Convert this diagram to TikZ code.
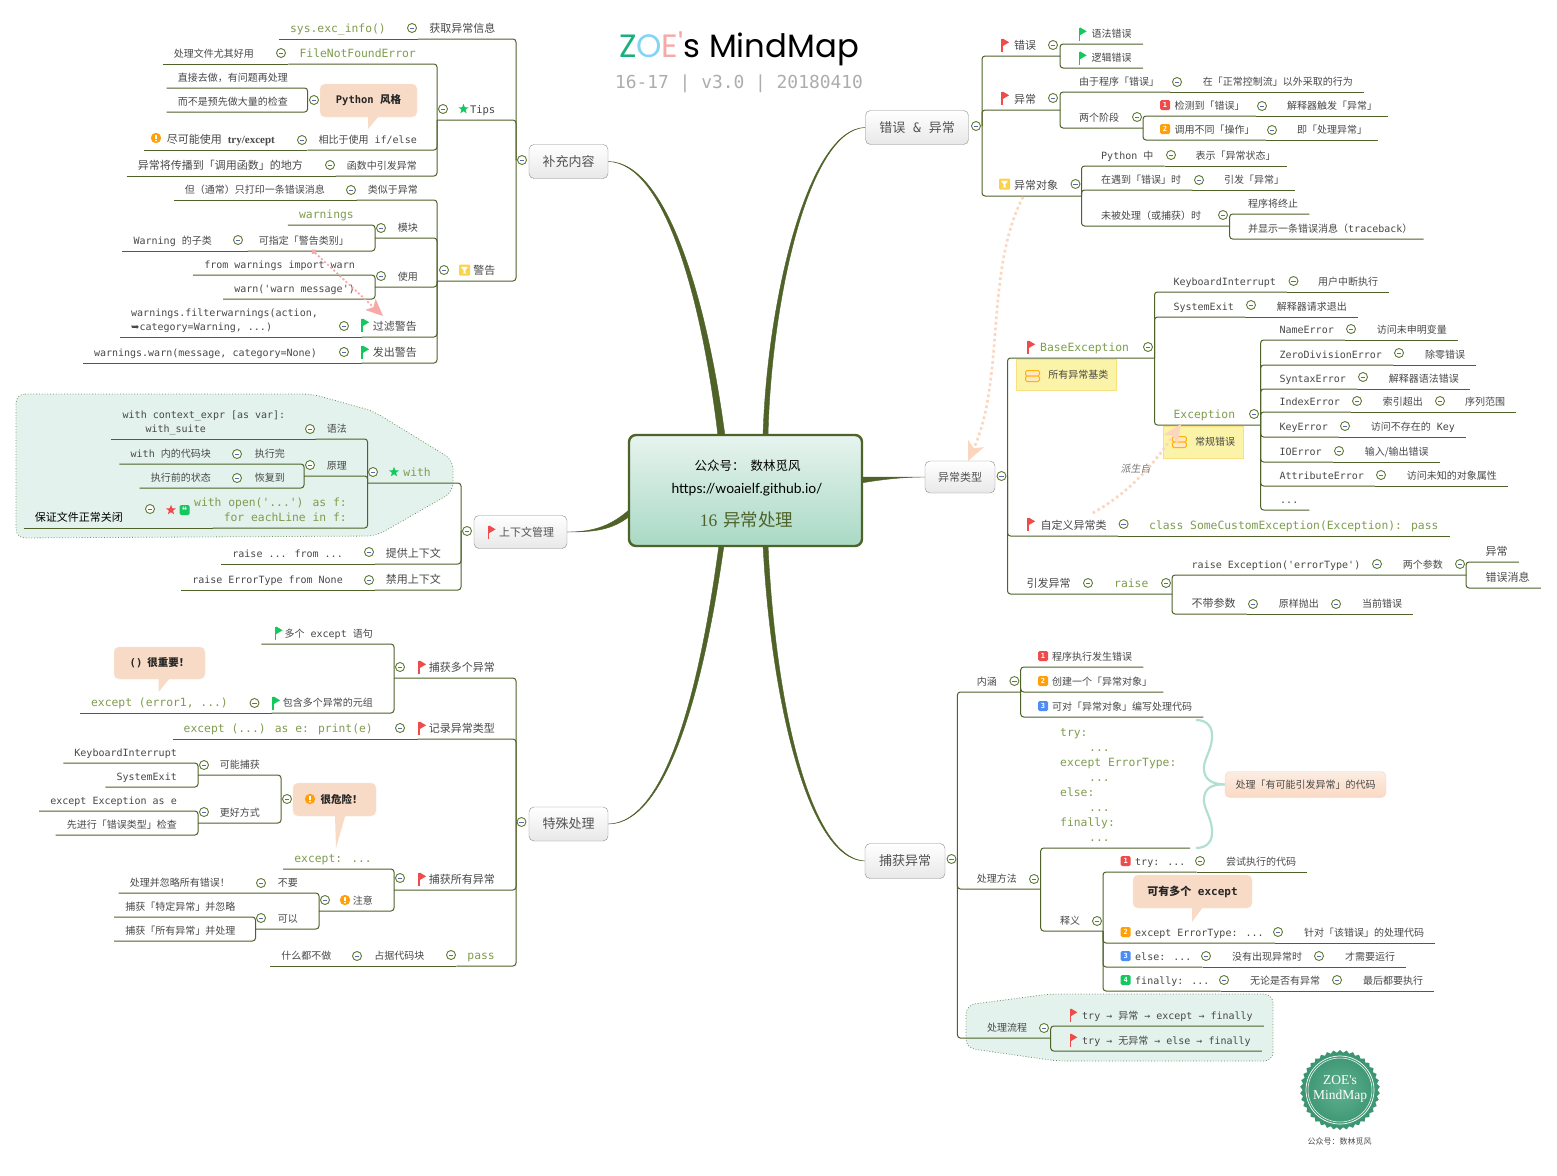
\documentclass[tikz,border=0pt]{standalone}
\usepackage{fontspec}
\usetikzlibrary{arrows.meta,shapes.geometric}
\newfontfamily\cjk{Noto Sans CJK SC}
\newfontfamily\cjkslant{Noto Sans CJK SC}[FakeSlant=0.2]
\newfontfamily\monof{DejaVu Sans Mono}
\newfontfamily\symf{DejaVu Sans}
\newfontfamily\serifb{Liberation Serif}
\newfontfamily\titlef{Poppins}
\newfontfamily\urlf{Lato}
\newcommand{\setfs}[1]{\fontsize{#1}{#1}\selectfont}
\newcommand{\cc}[1]{{\monof #1}}
\newcommand{\codedots}{...}
\definecolor{linec}{HTML}{4F6228}
\definecolor{ink}{HTML}{484848}
\definecolor{codec}{HTML}{7F9C4E}
\definecolor{foldc}{HTML}{5E7A36}
\definecolor{minusc}{HTML}{5A6AA8}
\definecolor{peach}{HTML}{F8DBC6}
\definecolor{peachd}{HTML}{FBD5BD}
\definecolor{pinkc}{HTML}{F9A8A8}
\definecolor{fillg}{HTML}{E3F2EC}
\definecolor{zoneline}{HTML}{6B8E5A}
\definecolor{notec}{HTML}{FBF3A8}
\definecolor{notel}{HTML}{F7E27F}
\definecolor{bracec}{HTML}{B2E0CF}
\definecolor{rootbot}{HTML}{A9D9C5}
\definecolor{sealin}{HTML}{5FB08F}
\definecolor{sealout}{HTML}{3A9370}
\definecolor{fred}{HTML}{F04B4B}
\definecolor{fgreen}{HTML}{12C95D}
\definecolor{forange}{HTML}{FF9F0A}
\definecolor{fblue}{HTML}{4D8DF5}
\definecolor{fyellow}{HTML}{FBD34A}
\definecolor{zgreen}{HTML}{1AAF7E}
\definecolor{zblue}{HTML}{82D4F5}
\definecolor{zpink}{HTML}{F7A8A8}
\begin{document}
\begin{tikzpicture}[x=1pt,y=-1pt]
    \tikzstyle{lab}=[text=ink, inner xsep=11pt, inner ysep=4pt, text height=8pt,
                            text depth=2.5pt, font=\cjk\setfs{10}]
    \tikzstyle{lt}=[lab, anchor=south east, xshift=11pt]
    \tikzstyle{rt}=[lab, anchor=south west, xshift=-11pt]
    \tikzstyle{big}=[font=\cjk\setfs{11}]
    \tikzstyle{mono}=[font=\monof\setfs{10}]
    \tikzstyle{gcode}=[font=\monof\setfs{11.35}, text=codec]
    \tikzstyle{link}=[draw=linec, line width=1pt, rounded corners=3pt]
    \tikzstyle{fold}=[circle, draw=foldc, fill=white, line width=.9pt, inner sep=0pt,
                            minimum size=9pt, path picture={\draw[minusc, line width=.7pt] (-2.2pt,0pt) -- (2.2pt,0pt);}]
    \tikzstyle{mainbox}=[rectangle, rounded corners=5pt, draw=black!45, top color=white,
                            bottom color=black!9, text=black!68, font=\cjk\setfs{13}, inner sep=0pt]
    \tikzstyle{bubble}=[rectangle, rounded corners=5pt, draw=peach!70!white, fill=peach, inner sep=0pt,
                            text=black!85, font=\cjk\bfseries\setfs{10.5}]
    \tikzstyle{notebox}=[rectangle, draw=notel, fill=notec, inner sep=0pt, text=ink, font=\cjk\setfs{10}]
    \tikzstyle{badge}=[rectangle, rounded corners=1.5pt, inner sep=0pt, minimum size=10pt, text=white,
                            font=\monof\bfseries\setfs{7}]
    \tikzstyle{zone}=[draw=zoneline, fill=fillg, line width=.8pt, dotted, rounded corners=9pt]
    \tikzstyle{branch}=[fill=linec, draw=linec, line width=.4pt]
    \tikzset{
      flagicon/.pic={\fill[#1] (-3.2,-6.5) rectangle (-1.8,6.5);
                     \fill[#1] (-1.8,-6.5) -- (4.6,-2.7) -- (-1.8,1.1) -- cycle;},
      staricon/.pic={\node[star, star points=5, star point ratio=2.4, fill=#1, inner sep=0pt, minimum size=10.5pt] {};},
      alerticon/.pic={\fill[forange] (0,0) circle (5.2pt);
                      \fill[white] (-.8,-3.2) rectangle (.8,1); \fill[white] (0,2.6) circle (.9pt);},
      cupicon/.pic={\fill[fyellow, rounded corners=1pt] (-5.5,-5.5) rectangle (5.5,5.5);
                    \fill[white] (-3.5,-3.2) -- (3.5,-3.2) -- (.8,.5) -- (.8,2.4) -- (2,3.4) -- (-2,3.4) -- (-.8,2.4) -- (-.8,.5) -- cycle;},
      sheeticon/.pic={\draw[forange!80!yellow, fill=forange!25!white, rounded corners=1.5pt, line width=1pt] (-7,-5.5) rectangle (7,0);
                      \draw[forange!80!yellow, fill=forange!25!white, rounded corners=1.5pt, line width=1pt] (-7,0) rectangle (7,5.5);}
    }
    \useasboundingbox (0,0) rectangle (1557,1175);
    \fill[white] (0,0) rectangle (1557,1175);

    % zones
    \draw[zone] (16,394) -- (312,394) -- (373,411) -- (453,460) -- (453,492) -- (376,536) -- (16,538) -- cycle;
    \draw[zone] (966,1005) -- (1050,994) -- (1273,994) -- (1273,1061) -- (1057,1061) -- (966,1048) -- cycle;

    % title
    \node (title) at (739,49) {\titlef\setfs{32.3}\textcolor{zgreen}{Z}\textcolor{zblue}{O}\textcolor{zpink}{E'}s MindMap};
    \node[font=\monof\setfs{17.9}, text=black!32] (version) at (739,84) {16-17 | v3.0 | 20180410};

    % main boxes
    \node[mainbox, minimum width=79pt, minimum height=34pt] (supp) at (568.5,161.5) {补充内容};
    \node[mainbox, minimum width=93pt, minimum height=33pt, font=\cjk\setfs{11}] (ctx) at (520.5,532) {\hspace*{12pt}上下文管理};
    \node[mainbox, minimum width=79pt, minimum height=34pt] (spec) at (568.5,824) {特殊处理};
    \node[mainbox, minimum width=103pt, minimum height=34pt] (errm) at (917,127.5) {错误\cc{ \& }异常};
    \node[mainbox, minimum width=70pt, minimum height=32pt, font=\cjk\setfs{11}] (types) at (960,477) {异常类型};
    \node[mainbox, minimum width=80pt, minimum height=35pt] (catchm) at (905,861) {捕获异常};

    % root and its branches
    \coordinate (rn1) at (718,436); \coordinate (rn2) at (725,436);
    \coordinate (rn3) at (763,436); \coordinate (rn4) at (768,436);
    \coordinate (rs1) at (719,545); \coordinate (rs2) at (724,545);
    \coordinate (rs3) at (763,545); \coordinate (rs4) at (768,545);
    \coordinate (re1) at (861,477); \coordinate (re2) at (861,483);
    \coordinate (rw1) at (630,509); \coordinate (rw2) at (630,516);
    \path[branch] (supp.east) .. controls (665,163) and (702,300) .. (rn1) -- (rn2) .. controls (707,300) and (667,162) .. (supp.east);
    \path[branch] (errm.west) .. controls (808,128) and (767,300) .. (rn3) -- (rn4) .. controls (771,300) and (809,129) .. (errm.west);
    \path[branch] (types.west) .. controls (905,477) and (885,477) .. (re1) -- (re2) .. controls (885,479) and (905,477) .. (types.west);
    \path[branch] (catchm.west) .. controls (808,860) and (771,700) .. (rs3) -- (rs4) .. controls (775,700) and (809,858) .. (catchm.west);
    \path[branch] (spec.east) .. controls (668,823) and (701,680) .. (rs1) -- (rs2) .. controls (705,680) and (669,824) .. (spec.east);
    \path[branch] (ctx.east) .. controls (595,532) and (612,525) .. (rw1) -- (rw2) .. controls (612,530) and (595,532) .. (ctx.east);
    \node[rectangle, rounded corners=7pt, draw=linec, line width=2.4pt, top color=fillg!85!white, bottom color=rootbot,
          minimum width=233pt, minimum height=111pt, inner sep=0pt] (root) at (745.5,490.5) {};
    \node[font=\cjk\setfs{12.5}, text=black] (rootpub) at (747.5,466) {公众号：\hspace{6pt}数林觅风};
    \node[font=\urlf\setfs{13.9}, text=black] (rooturl) at (747,489.5) {https://woaielf.github.io/};
    \node[font=\cjk\setfs{17.5}, text=linec] (rootname) at (746.5,520) {{\serifb 16}\hspace{6pt}异常处理};

    % bubbles
    \node[bubble, minimum width=97pt, minimum height=33pt] (pystyle) at (368.5,100.5) {\cc{Python }风格};
    \fill[peach] (368,116) -- (379,116) -- (368,129) -- cycle;
    \node[bubble, minimum width=91pt, minimum height=32pt] (important) at (159.5,663) {{\monof ()}\hspace{5pt}很重要！};
    \fill[peach] (158.5,678) -- (170,678) -- (158.5,692) -- cycle;
    \node[bubble, minimum width=83pt, minimum height=33pt] (danger) at (334.5,799.5) {\hspace*{14pt}很危险！};
    \fill[peach] (335,815) -- (345.5,815) -- (336,848) -- cycle;
    \node[bubble, minimum width=119pt, minimum height=33pt, font=\cjk\bfseries\setfs{11}] (severalexc) at (1192.5,891.5) {可有多个\cc{ except}};
    \fill[peach] (1192,907) -- (1203,907) -- (1192,922) -- cycle;
    \node[rectangle, rounded corners=5pt, draw=peachd, top color=peach!50!white, bottom color=peachd!90!white,
          minimum width=161pt, minimum height=26pt, inner sep=0pt, font=\cjk\setfs{10}, text=ink] (maycode) at (1305.5,784.5) {处理「有可能引发异常」的代码};
    \node[notebox, minimum width=100pt, minimum height=31pt] (basenote) at (1066.4,374.5) {\hspace*{24pt}所有异常基类};
    \node[notebox, minimum width=80pt, minimum height=32pt] (excnote) at (1203,442) {\hspace*{24pt}常规错误};
    \draw[bracec, line width=2.2pt] (1196,720) .. controls (1208,720) and (1213,728) .. (1212,738) .. controls (1211,752) and (1203,760) .. (1204,770)
        .. controls (1205,780) and (1212,784) .. (maycode.west) .. controls (1212,784) and (1205,788) .. (1204,798)
        .. controls (1203,808) and (1211,816) .. (1212,830) .. controls (1213,840) and (1208,848) .. (1196,848);

    % bus points
    \coordinate (suppb) at (516,160);   \coordinate (tipsb) at (437,120);
    \coordinate (warnb) at (437,281);   \coordinate (modb) at (375,238);
    \coordinate (useb) at (375,287);    \coordinate (stylb) at (307.6,100);
    \coordinate (ctxb) at (461,531);    \coordinate (withb) at (367.6,483);
    \coordinate (princb) at (304,476);  \coordinate (specb) at (516,822);
    \coordinate (multib) at (394,678);  \coordinate (allb) at (394,890);
    \coordinate (dangb) at (281,799);   \coordinate (capb) at (198,775);
    \coordinate (betterb) at (198,823); \coordinate (noteb) at (319,911);
    \coordinate (canb) at (255.5,929);
    \coordinate (errmb) at (982,126);   \coordinate (errb) at (1060,56);
    \coordinate (excb) at (1060,110);   \coordinate (twob) at (1143,128);
    \coordinate (objb) at (1081.5,196); \coordinate (unb) at (1229.6,226);
    \coordinate (typeb) at (1007.5,476); \coordinate (baseb) at (1154.5,358);
    \coordinate (exb) at (1260.6,425);  \coordinate (raiseb) at (1172,594);
    \coordinate (twoargb) at (1466,575); \coordinate (catchb) at (957.4,859);
    \coordinate (meanb) at (1020.7,692); \coordinate (methb) at (1040.7,889);
    \coordinate (explb) at (1103,931);  \coordinate (flowb) at (1050.7,1038);
    \coordinate (codeend) at (1190,848);

    % supplement
    \node[lt,big] (getinfo) at (495.5,39) {获取异常信息};
    \node[lt,gcode] (sysinfo) at (386,39) {sys.exc\_info()};
    \node[lt,gcode] (fnf) at (416,64) {FileNotFoundError};
    \node[lt] (fnfuse) at (254,64) {处理文件尤其好用};
    \node[lt] (godo) at (288,88) {直接去做，有问题再处理};
    \node[lt] (nocheck) at (288,112) {而不是预先做大量的检查};
    \node[lt] (compif) at (417,150) {相比于使用\cc{ if/else}};
    \node[lt,big] (usetry) at (275,150) {\hspace*{12pt}尽可能使用\hspace{6pt}{\serifb\bfseries try/except}};
    \node[lt] (funcin) at (417,176) {函数中引发异常};
    \node[lt,big] (spread) at (303,176) {异常将传播到「调用函数」的地方};
    \node[lt] (likeexc) at (418,200) {类似于异常};
    \node[lt] (butmsg) at (325,200) {但（通常）只打印一条错误消息};
    \node[lt,gcode] (warnmod) at (354,225) {warnings};
    \node[lt] (warnsub) at (349,251) {可指定「警告类别」};
    \node[lt] (warnchild) at (212,251) {\cc{Warning }的子类};
    \node[lt,mono] (fromw) at (355,275) {from warnings import warn};
    \node[lt,mono] (warnmsg) at (355,299) {warn('warn message')};
    \node[lt,big] (filt) at (417,337) {过滤警告};
    \node[rt,mono] (filtcode1) at (131,323) {warnings.filterwarnings(action,};
    \node[rt,mono] (filtcode2) at (131,337) {{\symf ➥}category=Warning, \codedots)};
    \node[lt,big] (emit) at (417,363) {发出警告};
    \node[lt,mono] (emitcode) at (317,363) {warnings.warn(message, category=None)};
    \node[lt] (tipsmod) at (418,238) {模块};
    \node[lt] (tipsuse) at (418,287) {使用};
    \node[lt,font=\monof\setfs{10.5}] (tips) at (495.5,120) {Tips};
    \node[lt,big] (warnm) at (495.5,281) {警告};

    % context
    \node[lt,gcode] (withm) at (431,483) {with};
    \node[lt] (syn) at (347,439) {语法};
    \node[rt,mono] (synhead) at (122.5,425) {with context\_expr [as var]:};
    \node[lt,mono] (synline2) at (206,439) {\hspace*{23.5pt}with\_suite};
    \node[lt] (princ) at (347,476) {原理};
    \node[lt] (withcode) at (285,464) {执行完};
    \node[lt] (withinner) at (211,464) {\cc{with }内的代码块};
    \node[lt] (restore) at (285,488) {恢复到};
    \node[lt] (before) at (211,488) {执行前的状态};
    \node[lt,gcode] (withopen1) at (347,513) {with open('\codedots') as f:};
    \node[lt,gcode] (withopen2) at (347,528) {for eachLine in f:};
    \node[lt,big] (keepclose) at (123,528) {\textcolor{black}{保证文件正常关闭}};
    \node[lt,big] (provide) at (441,564) {提供上下文};
    \node[lt,mono] (rsfrom) at (343,564) {raise \codedots{} from \codedots};
    \node[lt,big] (disable) at (441,590) {禁用上下文};
    \node[lt,mono] (rsnone) at (343,590) {raise ErrorType from None};

    % special
    \node[lt] (multiexc) at (373,644) {\hspace*{12pt}多个\cc{ except }语句};
    \node[lt,big] (capmulti) at (495,678) {捕获多个异常};
    \node[lt] (tupl) at (373,713) {包含多个异常的元组};
    \node[lt,gcode] (errtuple) at (228,713) {except (error1, \codedots)};
    \node[lt,big] (logtype) at (495,739) {记录异常类型};
    \node[lt,gcode] (logcode) at (373,739) {except (\codedots) as e: print(e)};
    \node[lt,mono] (kbd) at (177,763) {KeyboardInterrupt};
    \node[lt,mono] (sysexit) at (177,787) {SystemExit};
    \node[lt,mono] (exc) at (177,811) {except Exception as e};
    \node[lt] (firstchk) at (177,835) {先进行「错误类型」检查};
    \node[lt] (maycap) at (260,775) {可能捕获};
    \node[lt] (betterw) at (260,823) {更好方式};
    \node[lt,gcode] (exceptall) at (372,869) {except: \codedots};
    \node[lt,big] (capall) at (495,890) {捕获所有异常};
    \node[lt] (attn) at (373,911) {注意};
    \node[lt] (dont) at (298,893) {不要};
    \node[lt] (ignore) at (230,893) {处理并忽略所有错误！};
    \node[lt] (can) at (298,929) {可以};
    \node[lt] (specific) at (235.5,917) {捕获「特定异常」并忽略};
    \node[lt] (allproc) at (235.5,941) {捕获「所有异常」并处理};
    \node[lt,gcode] (passk) at (495,966) {pass};
    \node[lt] (occupy) at (424.5,966) {占据代码块};
    \node[lt] (nothing) at (331.5,966) {什么都不做};

    % errors
    \node[rt,big] (errn) at (1014,56) {错误};
    \node[rt] (synerr) at (1091.5,44) {语法错误};
    \node[rt] (logerr) at (1091.5,68) {逻辑错误};
    \node[rt,big] (excn) at (1014,110) {异常};
    \node[rt] (dueerr) at (1079,92) {由于程序「错误」};
    \node[rt] (outside) at (1202.6,92) {在「正常控制流」以外采取的行为};
    \node[rt] (twostage) at (1079,128) {两个阶段};
    \node[rt] (detect) at (1174.5,116) {检测到「错误」};
    \node[rt] (trigger) at (1287,116) {解释器触发「异常」};
    \node[rt] (invoke) at (1174.5,140) {调用不同「操作」};
    \node[rt] (handle) at (1297,140) {即「处理异常」};
    \node[rt,big] (objn) at (1014,196) {异常对象};
    \node[rt] (pyin) at (1101,166) {\cc{Python }中};
    \node[rt] (repr) at (1195.5,166) {表示「异常状态」};
    \node[rt] (meet) at (1101,190) {在遇到「错误」时};
    \node[rt] (raises) at (1224,190) {引发「异常」};
    \node[rt] (uncaught) at (1101,226) {未被处理（或捕获）时};
    \node[rt] (stopn) at (1248,214) {程序将终止};
    \node[rt] (showtb) at (1248,239) {并显示一条错误消息（\cc{traceback}）};

    % types
    \node[rt,gcode] (basen) at (1040,358) {BaseException};
    \node[rt,mono] (kbint) at (1173.4,292) {KeyboardInterrupt};
    \node[rt] (kbuser) at (1318,292) {用户中断执行};
    \node[rt,mono] (sysex) at (1173.4,317) {SystemExit};
    \node[rt] (sysreq) at (1276.6,317) {解释器请求退出};
    \node[rt,gcode] (excn2) at (1173.4,425) {Exception};
    \node[rt,mono] (nameerr) at (1279.4,340) {NameError};
    \node[rt] (namemsg) at (1376.6,340) {访问未申明变量};
    \node[rt,mono] (zero) at (1279.4,365) {ZeroDivisionError};
    \node[rt] (zeromsg) at (1425,365) {除零错误};
    \node[rt,mono] (syntax) at (1279.4,389) {SyntaxError};
    \node[rt] (syntaxmsg) at (1388.7,389) {解释器语法错误};
    \node[rt,mono] (index) at (1279.4,412) {IndexError};
    \node[rt] (indexmsg) at (1382.6,412) {索引超出};
    \node[rt] (seqrange) at (1465,412) {序列范围};
    \node[rt,mono] (keyer) at (1279.4,437) {KeyError};
    \node[rt] (keymsg) at (1370.6,437) {访问不存在的\cc{ Key}};
    \node[rt,mono] (ioer) at (1279.4,462) {IOError};
    \node[rt] (iomsg) at (1364.6,462) {输入/输出错误};
    \node[rt,mono] (attr) at (1279.4,486) {AttributeError};
    \node[rt] (attrmsg) at (1406.7,486) {访问未知的对象属性};
    \node[rt,mono] (dots) at (1280,510) {\codedots};
    \node[rt,big] (custom) at (1040.5,536) {自定义异常类};
    \node[rt,gcode] (customcode) at (1149,536) {class SomeCustomException(Exception): pass};
    \node[rt,big] (raisen) at (1026.4,594) {引发异常};
    \node[rt,gcode] (raisek) at (1114,594) {raise};
    \node[rt,mono] (rsexc) at (1191.5,575) {raise Exception('errorType')};
    \node[rt] (twoargs) at (1402.7,575) {两个参数};
    \node[rt,big] (arg1) at (1485.5,562) {异常};
    \node[rt,big] (arg2) at (1485.5,588) {错误消息};
    \node[rt,big] (noarg) at (1191.5,614) {不带参数};
    \node[rt] (reraise) at (1278.6,614) {原样抛出};
    \node[rt] (curerr) at (1362,614) {当前错误};
    \node[font=\cjkslant\setfs{10}, text=black!55] (derived) at (1135.5,469) {派生自};

    % catching
    \node[rt] (meann) at (976.7,692) {内涵};
    \node[rt] (m1) at (1052,667) {程序执行发生错误};
    \node[rt] (m2) at (1052,692) {创建一个「异常对象」};
    \node[rt] (m3) at (1052,717) {可对「异常对象」编写处理代码};
    \node[rt] (methn) at (976.7,889) {处理方法};
    \foreach \t/\d [count=\i] in {try:/0,\codedots/29,except ErrorType:/0,\codedots/29,else:/0,\codedots/29,finally:/0,\codedots/29}
        \node[rt,gcode] (code\i) at (1060+\d,728+\i*15) {\t};
    \node[rt,mono] (tryline) at (1135,872) {try: \codedots};
    \node[rt] (trymsg) at (1226,872) {尝试执行的代码};
    \node[rt] (expln) at (1060,931) {释义};
    \node[rt,mono] (exc2) at (1135,943) {except ErrorType: \codedots};
    \node[rt] (exc2msg) at (1304,943) {针对「该错误」的处理代码};
    \node[rt,mono] (elsel) at (1135,967) {else: \codedots};
    \node[rt] (elsemsg) at (1232,967) {没有出现异常时};
    \node[rt] (elserun) at (1345,967) {才需要运行};
    \node[rt,mono] (fin) at (1135,991) {finally: \codedots};
    \node[rt] (finmsg) at (1250,991) {无论是否有异常};
    \node[rt] (finrun) at (1363,991) {最后都要执行};
    \node[rt] (flown) at (987,1038) {处理流程};
    \node[rt] (flow1) at (1082,1026) {\cc{try → }异常\cc{ → except → finally}};
    \node[rt] (flow2) at (1082,1051) {\cc{try → }无异常\cc{ → else → finally}};

    % connectors, left hand side
    \foreach \a/\b in {getinfo/suppb, fnf/tipsb, compif/tipsb, funcin/tipsb, likeexc/warnb, filt/warnb, emit/warnb,
                       warnmod/modb, warnsub/modb, fromw/useb, warnmsg/useb, godo/stylb, nocheck/stylb,
                       syn/withb, withopen2/withb, withinner/princb, before/princb, provide/ctxb, disable/ctxb,
                       multiexc/multib, tupl/multib, logtype/specb, exceptall/allb, passk/specb,
                       kbd/capb, sysexit/capb, exc/betterb, firstchk/betterb, ignore/noteb, specific/canb, allproc/canb}
        \draw[link] (\a.south west) -| (\b);
    \foreach \a/\b in {tipsb/suppb, warnb/suppb, modb/warnb, useb/warnb, withb/ctxb, princb/withb, multib/specb, allb/specb,
                       capb/dangb, betterb/dangb, noteb/allb, canb/noteb}
        \draw[link] (\a) -| (\b);
    \foreach \a/\b in {sysinfo/getinfo, fnfuse/fnf, usetry/compif, spread/funcin, butmsg/likeexc, warnchild/warnsub,
                       filtcode2/filt, emitcode/emit, keepclose/withopen2, synline2/syn, rsfrom/provide, rsnone/disable,
                       errtuple/tupl, logcode/logtype, nothing/occupy, occupy/passk}
        \draw[link] (\a.south west) -- (\b.south west);

    % connectors, right hand side
    \foreach \p/\c in {errmb/errb, errmb/excb, errmb/objb, excb/twob, objb/unb, typeb/baseb, baseb/exb, typeb/raiseb,
                       raiseb/twoargb, catchb/meanb, catchb/methb, methb/explb, catchb/flowb, methb/codeend}
        \draw[link] (\p) |- (\c);
    \foreach \p/\c in {errb/synerr, errb/logerr, excb/dueerr, twob/detect, twob/invoke, objb/pyin, objb/meet, unb/stopn, unb/showtb,
                       baseb/kbint, baseb/sysex, exb/nameerr, exb/zero, exb/syntax, exb/index, exb/keyer, exb/ioer, exb/attr, exb/dots,
                       typeb/custom, raiseb/noarg, twoargb/arg1, twoargb/arg2, meanb/m1, meanb/m2, meanb/m3,
                       explb/tryline, explb/exc2, explb/elsel, explb/fin, flowb/flow1, flowb/flow2}
        \draw[link] (\p) |- (\c.south east);
    \foreach \a/\b in {dueerr/outside, detect/trigger, invoke/handle, pyin/repr, meet/raises, kbint/kbuser, sysex/sysreq,
                       nameerr/namemsg, zero/zeromsg, syntax/syntaxmsg, index/indexmsg, indexmsg/seqrange, keyer/keymsg,
                       ioer/iomsg, attr/attrmsg, custom/customcode, noarg/reraise, reraise/curerr, tryline/trymsg,
                       exc2/exc2msg, elsel/elsemsg, elsemsg/elserun, fin/finmsg, finmsg/finrun}
        \draw[link] (\a.south east) -- (\b.south east);

    % fold marks
    \foreach \x/\y [count=\i] in {522/160,412/28,443/109,444/270,281/53,314/100,302/140,330/165,351/190,381/228,238/240,381/276,344/326,344/352,
                       467/531,373/472,310/429,310/465,237/454,237/478,150/509,369/552,369/580,
                       521.5/822,400/667,400/728,400/878,254.5/703,287/799,204/765,204/812,325/900,261/883,261/918,451/955,357/956,
                       976/126,1053/45,1053/98,1177/82,1137/117,1262/106,1272/130,1075.5/184,1171/155,1199/180,1223/215,
                       1001.5/476,1148/347,1293.5/281,1251/305,1254/414,1351/329,1399/353,1363/377,1357/401,1440/401,1345/426,1339/451,1381/475,
                       1123.6/524,1088/583,1166/583,1377/564,1460/564,1253/604,1336/604,
                       951.5/859,1014.4/681,1034/879,1200/861,1097/921,1278/932,1206/956,1319/956,1224/980,1337/980,1044/1028}
        \node[fold] (fold\i) at (\x,\y) {};

    % icons
    \foreach \x/\y in {1004.5/45,1004.5/98,1030.5/347,1030.5/524,491/532,421.5/667,421.5/728,421.5/879,1072.7/1015,1072.7/1040}
        \pic at (\x,\y) {flagicon=fred};
    \foreach \x/\y in {1082/34,1082/58,364.5/325,364.5/352,278/633,275.5/703}
        \pic at (\x,\y) {flagicon=fgreen};
    \pic at (463.5,109) {staricon=fgreen};
    \pic at (394,472) {staricon=fgreen};
    \pic at (171,510) {staricon=fred};
    \foreach \x/\y in {156/138,345/900,310/799}
        \pic at (\x,\y) {alerticon};
    \foreach \x/\y in {464.5/270,1004.5/184}
        \pic at (\x,\y) {cupicon};
    \pic at (1032.5,376) {sheeticon};
    \pic at (1179.4,442) {sheeticon};
    \node[badge, fill=fgreen] (quote) at (184.6,510) {\setfs{9}{\symf ❝}};
    \foreach \x/\y/\n/\c [count=\i] in {1165/105/1/fred,1165/129/2/forange,1043/656/1/fred,1043/681/2/forange,1043/706/3/fblue,
                       1125.7/861/1/fred,1125.7/932/2/forange,1125.7/956/3/fblue,1125.7/980/4/fgreen}
        \node[badge, fill=\c] (badge\i) at (\x,\y) {\n};

    % relation arrows
    \coordinate (objfoot) at (1023,197); \coordinate (typetop) at (968,461);
    \coordinate (customtop) at (1092.7,513); \coordinate (exctip) at (1181,424);
    \coordinate (subdot) at (312,250); \coordinate (filttop) at (383,316);
    \draw[peachd, line width=2.6pt, dash pattern=on 2.6pt off 3pt, -{Stealth[inset=5pt,length=19pt,width=17pt]}]
        (objfoot) .. controls (985,270) and (1005,380) .. (typetop);
    \draw[peachd, line width=2.6pt, dash pattern=on 2.6pt off 3pt, -{Stealth[inset=5pt,length=19pt,width=17pt]}]
        (customtop) .. controls (1125,495) and (1150,470) .. (exctip);
    \draw[pinkc, line width=1.8pt, dash pattern=on 2pt off 2.2pt, {Circle[length=5pt]}-{Stealth[inset=4pt,length=17pt,width=15pt]}]
        (subdot) -- (filttop);

    % seal
    \node[star, star points=38, star point ratio=1.07, inner color=sealin, outer color=sealout,
          minimum size=80pt, inner sep=0pt] (seal) at (1340,1090) {};
    \draw[white, line width=.7pt] (seal.center) circle (34pt);
    \draw[white, line width=.5pt] (seal.center) circle (32pt);
    \node[align=center, text=white, font=\serifb\setfs{13.5}, inner sep=0pt] (sealtext) at (1340,1089) {ZOE's\\[1pt]MindMap};
    \node[font=\cjk\setfs{8}, text=black!70] (sealcap) at (1339.5,1141) {公众号：数林觅风};
\end{tikzpicture}
\end{document}
